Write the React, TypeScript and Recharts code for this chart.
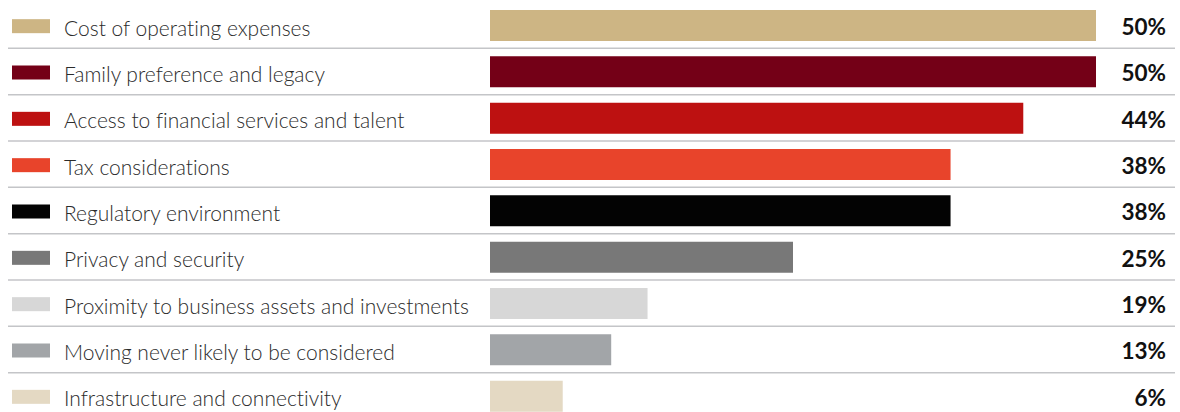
import { BarChart, Bar, XAxis, YAxis, Cell, LabelList } from "recharts";

const categories = [
  "Cost of operating expenses",
  "Family preference and legacy",
  "Access to financial services and talent",
  "Tax considerations",
  "Regulatory environment",
  "Privacy and security",
  "Proximity to business assets and investments",
  "Moving never likely to be considered",
  "Infrastructure and connectivity",
];

// bar lengths as drawn in the picture
const barValues = [50, 50, 44, 38, 38, 25, 13, 10, 6];

// printed percentages
const valueLabels = ["50%", "50%", "44%", "38%", "38%", "25%", "19%", "13%", "6%"];

const COLORS = [
  "#CDB584",
  "#740017",
  "#BD1111",
  "#E8442B",
  "#030303",
  "#787878",
  "#D7D7D7",
  "#A2A5A8",
  "#E4D9C3",
];

const WIDTH = 1180;
const HEIGHT = 420;
const MARGIN = { top: 2, right: 84, bottom: 1, left: 0 };
const ROW = (HEIGHT - MARGIN.top - MARGIN.bottom) / categories.length;
const FONT = "Lato, 'Noto Sans', sans-serif";

const chartData = categories.map((name, i) => ({
  name,
  value: barValues[i],
  label: valueLabels[i],
}));

// swatch + label + row separator
const RowTick = ({ y, payload, index }: any) => {
  const i = index ?? payload?.index ?? 0;
  return (
    <g>
      <rect x={12} y={y - 6} width={38} height={14} fill={COLORS[i]} />
      <text
        x={64}
        y={y + 2}
        dominantBaseline="central"
        fontFamily={FONT}
        fontWeight={300}
        fontSize={21}
        fill="#2b2b2b"
        style={{ fontVariantLigatures: "none" }}
      >
        {payload.value}
      </text>
      {i < categories.length - 1 && (
        <line
          x1={8}
          x2={1175}
          y1={y + ROW / 2}
          y2={y + ROW / 2}
          stroke="#c4c5c8"
          strokeWidth={1.5}
        />
      )}
    </g>
  );
};

const ValueLabel = ({ y, height, index }: any) => (
  <text
    x={1166}
    y={y + height / 2 + 1}
    textAnchor="end"
    dominantBaseline="central"
    fontFamily={FONT}
    fontWeight={700}
    fontSize={22.5}
    fill="#111"
  >
    {valueLabels[index]}
  </text>
);

export default function App() {
  return (
    <div
      style={{
        position: "absolute",
        left: 0,
        top: 0,
        width: WIDTH,
        height: 412,
        overflow: "hidden",
        background: "#fff",
      }}
    >
      <BarChart width={WIDTH} height={HEIGHT} data={chartData} layout="vertical" margin={MARGIN}>
        <XAxis type="number" domain={[0, 50]} hide />
        <YAxis
          type="category"
          dataKey="name"
          width={490}
          axisLine={false}
          tickLine={false}
          tick={<RowTick />}
          interval={0}
        />
        <Bar dataKey="value" barSize={31} isAnimationActive={false}>
          {chartData.map((entry, index) => (
            <Cell key={`cell-${index}`} fill={COLORS[index]} />
          ))}
          <LabelList dataKey="label" content={<ValueLabel />} />
        </Bar>
      </BarChart>
    </div>
  );
}
